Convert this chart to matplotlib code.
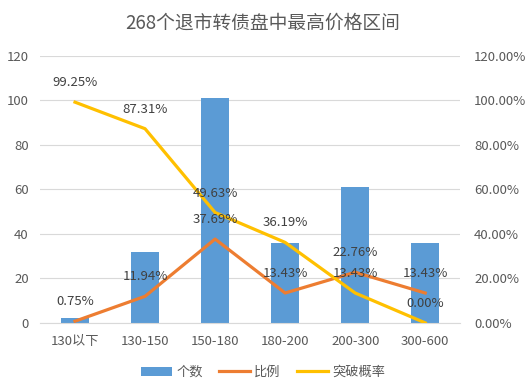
import matplotlib
matplotlib.use('Agg')
import matplotlib.pyplot as plt
from matplotlib.ticker import FuncFormatter

plt.rcParams['font.family'] = ['Noto Sans CJK SC', 'DejaVu Sans']

categories = ['130以下', '130-150', '150-180', '180-200', '200-300', '300-600']
counts = [2, 32, 101, 36, 61, 36]
ratio = [0.75, 11.94, 37.69, 13.43, 22.76, 13.43]
breakout = [99.25, 87.31, 49.63, 36.19, 13.43, 0.00]

text_color = '#595959'
grid_color = '#d9d9d9'

fig = plt.figure(figsize=(5.26, 3.89), dpi=100)
ax = fig.add_axes([0.076, 0.170, 0.799, 0.686])
ax2 = ax.twinx()

x = range(len(categories))
bars = ax.bar(x, counts, width=0.4, color='#5B9BD5', label='个数', zorder=2)
ax.set_ylim(0, 120)
ax.set_yticks(range(0, 121, 20))
ax.set_xlim(-0.5, 5.5)
ax.set_xticks(list(x))
ax.set_xticklabels(categories)
ax.grid(axis='y', color=grid_color, linewidth=0.8, zorder=0)
ax.set_axisbelow(True)

l1, = ax2.plot(x, ratio, color='#ED7D31', linewidth=2.3, label='比例', zorder=3)
l2, = ax2.plot(x, breakout, color='#FFC000', linewidth=2.3, label='突破概率', zorder=3)
ax2.set_ylim(0, 120)
ax2.set_yticks(range(0, 121, 20))
ax2.yaxis.set_major_formatter(FuncFormatter(lambda v, p: f'{v:.2f}%'))

for series in (ratio, breakout):
    for xi, v in zip(x, series):
        ax2.annotate(f'{v:.2f}%', (xi, v), xytext=(0, 14), textcoords='offset points',
                     ha='center', va='center', fontsize=9.5, color='#404040')

for a in (ax, ax2):
    for s in a.spines.values():
        s.set_visible(False)
    a.tick_params(length=0, labelsize=9.5, labelcolor=text_color)
ax.spines['bottom'].set_visible(True)
ax.spines['bottom'].set_color(grid_color)
ax.tick_params(axis='x', pad=9)
ax.tick_params(axis='y', pad=8)
ax2.tick_params(axis='y', pad=10)

fig.suptitle('268个退市转债盘中最高价格区间', x=0.5, y=0.967, fontsize=13.5, color=text_color)

fig.legend(handles=[bars, l1, l2], loc='center', bbox_to_anchor=(0.5, 0.043), ncol=3,
           frameon=False, fontsize=9.5, labelcolor=text_color, handlelength=2.4,
           handletextpad=0.3, columnspacing=1.2)

fig.savefig('out.png', dpi=100)
